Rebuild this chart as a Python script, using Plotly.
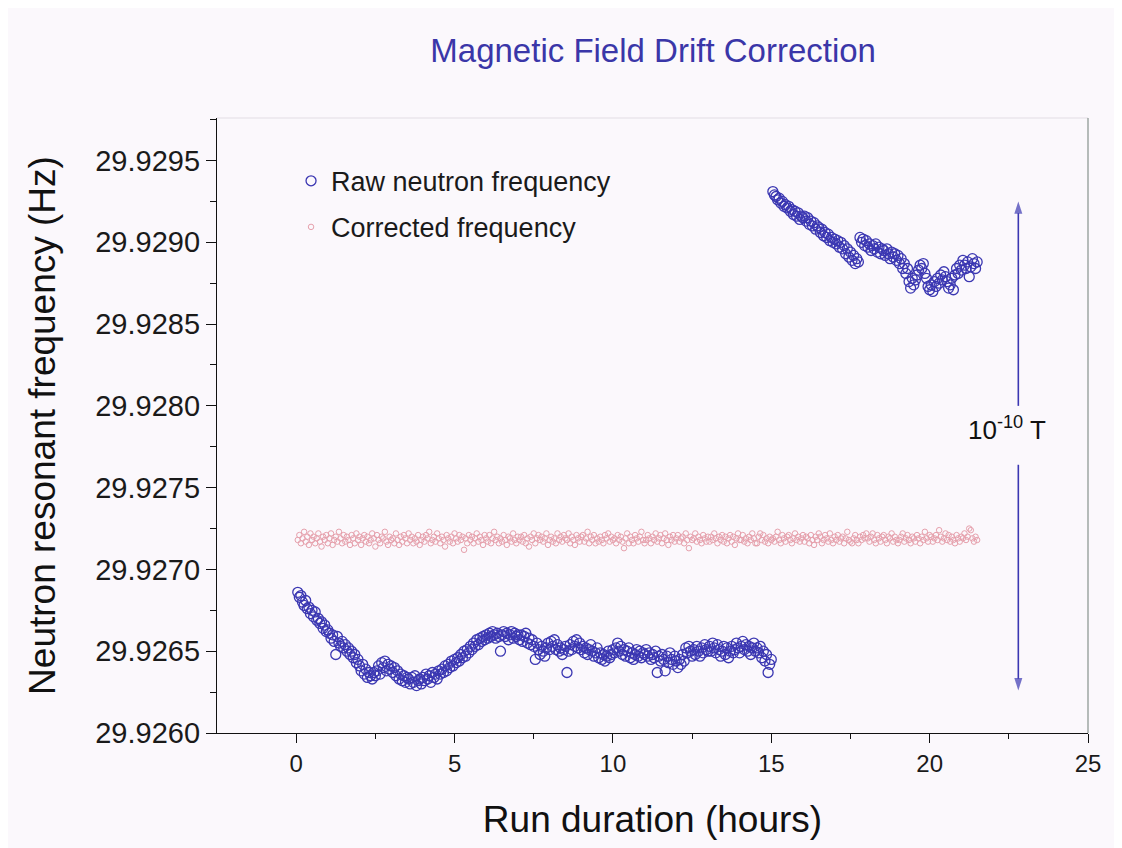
import plotly.graph_objects as go

# ---------------- data ----------------
# sampling grid (hours): one reading every 0.05 h
RAW1_START, RAW2_START, CORR_START, STEP = 0.05, 15.05, 0.05, 0.05

raw1_freq = [
    29.92686, 29.92683, 29.92684, 29.92680, 29.92678, 29.92681, 29.92676, 29.92677, 29.92673, 29.92675,
    29.92671, 29.92674, 29.92669, 29.92670, 29.92667, 29.92668, 29.92664, 29.92666, 29.92662, 29.92663,
    29.92661, 29.92658, 29.92660, 29.92656, 29.92648, 29.92659, 29.92655, 29.92653, 29.92656, 29.92652,
    29.92654, 29.92650, 29.92652, 29.92648, 29.92650, 29.92646, 29.92648, 29.92643, 29.92645, 29.92641,
    29.92638, 29.92642, 29.92636, 29.92639, 29.92634, 29.92637, 29.92635, 29.92633, 29.92637, 29.92635,
    29.92638, 29.92641, 29.92636, 29.92643, 29.92640, 29.92644, 29.92638, 29.92642, 29.92639, 29.92641,
    29.92637, 29.92640, 29.92635, 29.92638, 29.92633, 29.92636, 29.92632, 29.92635, 29.92631, 29.92634,
    29.92633, 29.92630, 29.92634, 29.92631, 29.92635, 29.92629, 29.92632, 29.92633, 29.92630, 29.92634,
    29.92632, 29.92636, 29.92633, 29.92635, 29.92631, 29.92637, 29.92634, 29.92636, 29.92633, 29.92638,
    29.92636, 29.92639, 29.92637, 29.92641, 29.92638, 29.92642, 29.92640, 29.92644, 29.92641, 29.92645,
    29.92643, 29.92646, 29.92644, 29.92648, 29.92646, 29.92650, 29.92647, 29.92651, 29.92649, 29.92653,
    29.92651, 29.92655, 29.92653, 29.92657, 29.92654, 29.92658, 29.92656, 29.92659, 29.92657, 29.92660,
    29.92658, 29.92661, 29.92659, 29.92662, 29.92660, 29.92658, 29.92661, 29.92659, 29.92650, 29.92660,
    29.92662, 29.92659, 29.92661, 29.92657, 29.92660, 29.92662, 29.92658, 29.92661, 29.92659, 29.92660,
    29.92657, 29.92660, 29.92656, 29.92659, 29.92661, 29.92655, 29.92658, 29.92654, 29.92657, 29.92653,
    29.92645, 29.92655, 29.92651, 29.92648, 29.92653, 29.92650, 29.92647, 29.92652, 29.92655, 29.92651,
    29.92656, 29.92653, 29.92657, 29.92651, 29.92654, 29.92650, 29.92652, 29.92648, 29.92651, 29.92653,
    29.92637, 29.92650, 29.92654, 29.92651, 29.92656, 29.92653, 29.92657, 29.92652, 29.92655, 29.92651,
    29.92653, 29.92649, 29.92652, 29.92648, 29.92651, 29.92654, 29.92650, 29.92647, 29.92649, 29.92652,
    29.92646, 29.92649, 29.92645, 29.92648, 29.92644, 29.92647, 29.92650, 29.92646, 29.92648, 29.92651,
    29.92649, 29.92652, 29.92655, 29.92650, 29.92653, 29.92648, 29.92651, 29.92647, 29.92650, 29.92652,
    29.92646, 29.92649, 29.92645, 29.92648, 29.92651, 29.92647, 29.92650, 29.92646, 29.92649, 29.92648,
    29.92651, 29.92647, 29.92649, 29.92645, 29.92648, 29.92646, 29.92650, 29.92637, 29.92647, 29.92644,
    29.92648, 29.92645, 29.92638, 29.92647, 29.92643, 29.92649, 29.92645, 29.92642, 29.92647, 29.92644,
    29.92640, 29.92645, 29.92642, 29.92648, 29.92644, 29.92652, 29.92649, 29.92653, 29.92650, 29.92647,
    29.92651, 29.92648, 29.92653, 29.92650, 29.92647, 29.92652, 29.92649, 29.92654, 29.92651, 29.92650,
    29.92653, 29.92650, 29.92655, 29.92652, 29.92649, 29.92654, 29.92651, 29.92647, 29.92650, 29.92653,
    29.92648, 29.92652, 29.92646, 29.92650, 29.92653, 29.92649, 29.92651, 29.92655, 29.92652, 29.92649,
    29.92653, 29.92656, 29.92651, 29.92654, 29.92650, 29.92653, 29.92648, 29.92652, 29.92655, 29.92650,
    29.92652, 29.92649, 29.92653, 29.92646, 29.92650, 29.92644, 29.92648, 29.92637, 29.92642, 29.92645,
]

raw2_freq = [
    29.92931, 29.92929, 29.92928, 29.92926, 29.92927, 29.92924, 29.92925, 29.92922, 29.92923, 29.92921,
    29.92922, 29.92919, 29.92920, 29.92917, 29.92919, 29.92916, 29.92918, 29.92914, 29.92916, 29.92915,
    29.92916, 29.92913, 29.92915, 29.92911, 29.92913, 29.92910, 29.92912, 29.92908, 29.92910, 29.92909,
    29.92906, 29.92908, 29.92904, 29.92906, 29.92903, 29.92905, 29.92901, 29.92903, 29.92900, 29.92902,
    29.92899, 29.92901, 29.92897, 29.92900, 29.92896, 29.92898, 29.92893, 29.92896, 29.92891, 29.92894,
    29.92889, 29.92892, 29.92887, 29.92890, 29.92888, 29.92903, 29.92900, 29.92902, 29.92898, 29.92901,
    29.92897, 29.92899, 29.92895, 29.92898, 29.92896, 29.92899, 29.92894, 29.92897, 29.92893, 29.92896,
    29.92895, 29.92892, 29.92896, 29.92893, 29.92890, 29.92894, 29.92891, 29.92893, 29.92889, 29.92892,
    29.92887, 29.92890, 29.92884, 29.92887, 29.92881, 29.92884, 29.92876, 29.92872, 29.92878, 29.92874,
    29.92877, 29.92880, 29.92883, 29.92886, 29.92884, 29.92887, 29.92881, 29.92878, 29.92873, 29.92871,
    29.92874, 29.92870, 29.92876, 29.92873, 29.92878, 29.92875, 29.92880, 29.92877, 29.92882, 29.92879,
    29.92876, 29.92872, 29.92874, 29.92878, 29.92871, 29.92880, 29.92884, 29.92881, 29.92886, 29.92883,
    29.92889, 29.92886, 29.92884, 29.92888, 29.92879, 29.92885, 29.92890, 29.92887, 29.92884, 29.92888,
]

corr_freq = [
    29.92718, 29.92721, 29.92716, 29.92719, 29.92723, 29.92717, 29.92720, 29.92715, 29.92722, 29.92718,
    29.92720, 29.92716, 29.92719, 29.92722, 29.92717, 29.92714, 29.92720, 29.92718, 29.92721, 29.92716,
    29.92719, 29.92722, 29.92715, 29.92718, 29.92720, 29.92717, 29.92723, 29.92719, 29.92716, 29.92721,
    29.92717, 29.92720, 29.92718, 29.92715, 29.92721, 29.92719, 29.92716, 29.92722, 29.92718, 29.92720,
    29.92715, 29.92719, 29.92721, 29.92717, 29.92720, 29.92716, 29.92718, 29.92722, 29.92719, 29.92714,
    29.92721, 29.92718, 29.92716, 29.92720, 29.92719, 29.92723, 29.92717, 29.92715, 29.92720, 29.92718,
    29.92719, 29.92716, 29.92722, 29.92718, 29.92715, 29.92720, 29.92717, 29.92721, 29.92719, 29.92716,
    29.92722, 29.92718, 29.92720, 29.92716, 29.92719, 29.92717, 29.92721, 29.92715, 29.92718, 29.92720,
    29.92717, 29.92721, 29.92719, 29.92723, 29.92716, 29.92718, 29.92720, 29.92717, 29.92722, 29.92719,
    29.92716, 29.92720, 29.92718, 29.92714, 29.92721, 29.92719, 29.92717, 29.92720, 29.92716, 29.92722,
    29.92719, 29.92717, 29.92721, 29.92718, 29.92720, 29.92712, 29.92719, 29.92716, 29.92721, 29.92718,
    29.92720, 29.92716, 29.92719, 29.92722, 29.92717, 29.92720, 29.92718, 29.92715, 29.92721, 29.92719,
    29.92717, 29.92721, 29.92716, 29.92719, 29.92723, 29.92718, 29.92720, 29.92716, 29.92719, 29.92717,
    29.92721, 29.92718, 29.92715, 29.92720, 29.92719, 29.92717, 29.92722, 29.92718, 29.92716, 29.92720,
    29.92718, 29.92720, 29.92717, 29.92721, 29.92716, 29.92719, 29.92714, 29.92720, 29.92718, 29.92722,
    29.92716, 29.92719, 29.92721, 29.92718, 29.92720, 29.92717, 29.92719, 29.92722, 29.92715, 29.92718,
    29.92720, 29.92717, 29.92719, 29.92716, 29.92722, 29.92718, 29.92720, 29.92717, 29.92721, 29.92719,
    29.92718, 29.92722, 29.92716, 29.92720, 29.92718, 29.92715, 29.92721, 29.92719, 29.92717, 29.92720,
    29.92721, 29.92717, 29.92719, 29.92723, 29.92716, 29.92720, 29.92718, 29.92721, 29.92716, 29.92719,
    29.92717, 29.92720, 29.92718, 29.92716, 29.92721, 29.92719, 29.92722, 29.92717, 29.92720, 29.92718,
    29.92719, 29.92716, 29.92721, 29.92718, 29.92720, 29.92717, 29.92713, 29.92719, 29.92722, 29.92716,
    29.92720, 29.92718, 29.92716, 29.92721, 29.92719, 29.92717, 29.92720, 29.92723, 29.92718, 29.92716,
    29.92718, 29.92721, 29.92719, 29.92716, 29.92720, 29.92718, 29.92722, 29.92717, 29.92719, 29.92721,
    29.92716, 29.92719, 29.92722, 29.92718, 29.92715, 29.92720, 29.92718, 29.92721, 29.92717, 29.92719,
    29.92721, 29.92717, 29.92719, 29.92720, 29.92716, 29.92722, 29.92718, 29.92713, 29.92720, 29.92718,
    29.92719, 29.92722, 29.92717, 29.92720, 29.92718, 29.92716, 29.92721, 29.92719, 29.92717, 29.92720,
    29.92717, 29.92720, 29.92718, 29.92722, 29.92719, 29.92716, 29.92720, 29.92718, 29.92721, 29.92717,
    29.92720, 29.92716, 29.92719, 29.92721, 29.92717, 29.92720, 29.92715, 29.92719, 29.92722, 29.92718,
    29.92718, 29.92721, 29.92717, 29.92719, 29.92716, 29.92720, 29.92718, 29.92722, 29.92719, 29.92716,
    29.92716, 29.92720, 29.92722, 29.92718, 29.92721, 29.92717, 29.92719, 29.92716, 29.92720, 29.92718,
    29.92719, 29.92717, 29.92720, 29.92723, 29.92718, 29.92716, 29.92721, 29.92719, 29.92717, 29.92720,
    29.92721, 29.92718, 29.92716, 29.92719, 29.92722, 29.92718, 29.92720, 29.92717, 29.92719, 29.92721,
    29.92717, 29.92720, 29.92719, 29.92716, 29.92721, 29.92718, 29.92715, 29.92720, 29.92718, 29.92722,
    29.92720, 29.92716, 29.92718, 29.92721, 29.92719, 29.92717, 29.92722, 29.92718, 29.92716, 29.92720,
    29.92718, 29.92721, 29.92717, 29.92719, 29.92720, 29.92716, 29.92719, 29.92723, 29.92718, 29.92717,
    29.92716, 29.92719, 29.92721, 29.92718, 29.92716, 29.92720, 29.92718, 29.92721, 29.92719, 29.92722,
    29.92719, 29.92717, 29.92720, 29.92722, 29.92718, 29.92716, 29.92721, 29.92719, 29.92717, 29.92720,
    29.92721, 29.92718, 29.92716, 29.92720, 29.92719, 29.92722, 29.92717, 29.92720, 29.92718, 29.92716,
    29.92718, 29.92720, 29.92722, 29.92717, 29.92719, 29.92721, 29.92718, 29.92716, 29.92720, 29.92719,
    29.92717, 29.92721, 29.92719, 29.92716, 29.92720, 29.92718, 29.92723, 29.92719, 29.92717, 29.92721,
    29.92720, 29.92717, 29.92719, 29.92721, 29.92718, 29.92724, 29.92720, 29.92717, 29.92719, 29.92722,
    29.92718, 29.92721, 29.92717, 29.92720, 29.92718, 29.92716, 29.92721, 29.92719, 29.92717, 29.92720,
    29.92719, 29.92722, 29.92718, 29.92720, 29.92725, 29.92724, 29.92719, 29.92717, 29.92720, 29.92718,
]

x_ticks = [0, 5, 10, 15, 20, 25]
y_ticks = [29.9260, 29.9265, 29.9270, 29.9275, 29.9280, 29.9285, 29.9290, 29.9295]
y_tick_labels = ["29.9260", "29.9265", "29.9270", "29.9275", "29.9280", "29.9285", "29.9290", "29.9295"]
y_minor = [29.92625, 29.92675, 29.92725, 29.92775, 29.92825, 29.92875, 29.92925, 29.92975]
x_minor = [2.5, 7.5, 12.5, 17.5, 22.5]

# field-span marker (arrow positions in data units)
span_x = 22.8
span_upper = [29.92800, 29.92925]   # from gap up to arrow tip
span_lower = [29.92764, 29.92626]   # from gap down to arrow tip
span_label = "10<sup>-10</sup> T"
span_label_pos = (22.45, 29.92786)


def grid(start, n):
    return [round(start + i * STEP, 3) for i in range(n)]


raw_x = grid(RAW1_START, len(raw1_freq)) + [None] + grid(RAW2_START, len(raw2_freq))
raw_y = raw1_freq + [None] + raw2_freq
corr_x = grid(CORR_START, len(corr_freq))

BLUE = "#3b37b2"
PINK = "#e6a0ac"
BG = "#fbf8fc"
FONT = "Liberation Sans, Arial, sans-serif"

fig = go.Figure()
fig.add_trace(go.Scatter(
    x=raw_x, y=raw_y, mode="markers", name="Raw neutron frequency", legendgroup="raw",
    marker=dict(symbol="circle-open", size=10, color=BLUE, line=dict(width=1.3)),
))
fig.add_trace(go.Scatter(
    x=corr_x, y=corr_freq, mode="markers", name="Corrected frequency", legendgroup="corr",
    marker=dict(symbol="circle-open", size=5.5, color=PINK, line=dict(width=1)),
))

# arrows for the 1e-10 T span (line + arrow-head marker at the tip)
for ys in (span_upper, span_lower):
    fig.add_trace(go.Scatter(
        x=[span_x, span_x], y=ys, mode="lines+markers", showlegend=False, hoverinfo="skip",
        line=dict(color=BLUE, width=1.6),
        marker=dict(symbol="arrow", angleref="previous", size=[0, 13], color=BLUE,
                    line=dict(width=0)),
    ))

fig.add_annotation(x=span_label_pos[0], y=span_label_pos[1], xref="x", yref="y", showarrow=False,
                   text=span_label, font=dict(family=FONT, size=26, color="#111111"))

# faint frame on top and right
fig.add_shape(type="line", xref="paper", yref="paper", x0=0, x1=1, y0=1, y1=1,
              line=dict(color="#e2dde4", width=1))
fig.add_shape(type="line", xref="paper", yref="paper", x0=1, x1=1, y0=0, y1=1,
              line=dict(color="#8f9a96", width=1.3))

fig.update_layout(
    width=1122, height=848,
    paper_bgcolor=BG, plot_bgcolor=BG,
    margin=dict(l=209, r=42, t=110, b=123),
    font=dict(family=FONT, color="#1a1a1a"),
    title=dict(text="Magnetic Field Drift Correction", x=0.575, xanchor="center",
               y=0.95, yanchor="middle", font=dict(family=FONT, size=33, color="#3a36a8")),
    showlegend=True,
    legend=dict(x=0.085, y=0.937, xanchor="left", yanchor="top", bgcolor="rgba(0,0,0,0)",
                font=dict(family=FONT, size=27, color="#1a1a1a"), tracegroupgap=8,
                itemsizing="trace"),
    xaxis=dict(
        range=[-2.5, 25], tickvals=x_ticks, ticks="outside", ticklen=9, tickwidth=1.2,
        tickcolor="#111", showline=True, linecolor="#111", linewidth=1.3, showgrid=False,
        zeroline=False, tickfont=dict(family=FONT, size=24, color="#1a1a1a"),
        minor=dict(tickvals=x_minor, ticks="outside", ticklen=5, tickcolor="#111"),
        title=dict(text="Run duration (hours)", font=dict(family=FONT, size=37, color="#111"),
                   standoff=30),
    ),
    yaxis=dict(
        range=[29.9260, 29.92976], tickvals=y_ticks, ticktext=y_tick_labels, ticks="outside",
        ticklen=10, tickwidth=1.2, tickcolor="#111", showline=True, linecolor="#111",
        linewidth=1.3, showgrid=False, zeroline=False,
        tickfont=dict(family=FONT, size=29, color="#1a1a1a"),
        minor=dict(tickvals=y_minor, ticks="outside", ticklen=6, tickcolor="#111"),
        title=dict(text="Neutron resonant frequency (Hz)",
                   font=dict(family=FONT, size=37, color="#111"), standoff=28),
    ),
)

fig.write_html("out.html")
